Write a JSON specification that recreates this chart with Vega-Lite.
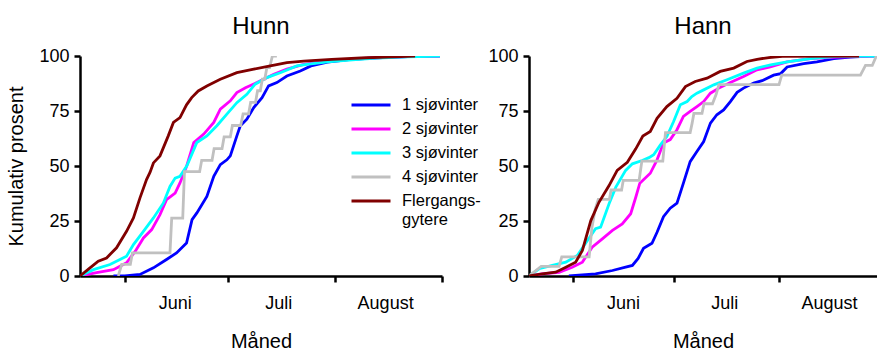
{
  "$schema": "https://vega.github.io/schema/vega-lite/v6.json",
  "padding": {"left": 6, "top": 15, "right": 0, "bottom": 0},
  "bounds": "flush",
  "spacing": 87,
  "datasets": {
    "hunn": [
      {"s": "1 sjøvinter", "d": -3.3, "p": 0},
      {"s": "1 sjøvinter", "d": 0, "p": 0.1},
      {"s": "1 sjøvinter", "d": 4.4, "p": 0.7},
      {"s": "1 sjøvinter", "d": 8.3, "p": 3.7},
      {"s": "1 sjøvinter", "d": 12.1, "p": 7.5},
      {"s": "1 sjøvinter", "d": 15, "p": 10.5},
      {"s": "1 sjøvinter", "d": 17.9, "p": 15},
      {"s": "1 sjøvinter", "d": 19.5, "p": 25.6},
      {"s": "1 sjøvinter", "d": 20.9, "p": 28.7},
      {"s": "1 sjøvinter", "d": 23.8, "p": 36.2},
      {"s": "1 sjøvinter", "d": 25.8, "p": 45.3},
      {"s": "1 sjøvinter", "d": 27.7, "p": 50.6},
      {"s": "1 sjøvinter", "d": 29.6, "p": 52.8},
      {"s": "1 sjøvinter", "d": 30.6, "p": 54.6},
      {"s": "1 sjøvinter", "d": 32.5, "p": 63.7},
      {"s": "1 sjøvinter", "d": 33.5, "p": 68.3},
      {"s": "1 sjøvinter", "d": 35.4, "p": 71.3},
      {"s": "1 sjøvinter", "d": 37.4, "p": 76.6},
      {"s": "1 sjøvinter", "d": 39.8, "p": 81.1},
      {"s": "1 sjøvinter", "d": 41.7, "p": 86.4},
      {"s": "1 sjøvinter", "d": 44.1, "p": 87.9},
      {"s": "1 sjøvinter", "d": 47, "p": 90.9},
      {"s": "1 sjøvinter", "d": 50.9, "p": 93.2},
      {"s": "1 sjøvinter", "d": 54, "p": 95.5},
      {"s": "1 sjøvinter", "d": 58.8, "p": 97.2},
      {"s": "1 sjøvinter", "d": 65, "p": 98.4},
      {"s": "1 sjøvinter", "d": 73, "p": 99.2},
      {"s": "1 sjøvinter", "d": 82, "p": 99.7},
      {"s": "1 sjøvinter", "d": 91.4, "p": 100},

      {"s": "2 sjøvinter", "d": -13, "p": 0},
      {"s": "2 sjøvinter", "d": -8.2, "p": 1.5},
      {"s": "2 sjøvinter", "d": -3.3, "p": 2.9},
      {"s": "2 sjøvinter", "d": 0.5, "p": 6},
      {"s": "2 sjøvinter", "d": 3, "p": 11.2},
      {"s": "2 sjøvinter", "d": 5.4, "p": 17.3},
      {"s": "2 sjøvinter", "d": 7.8, "p": 21.1},
      {"s": "2 sjøvinter", "d": 10.2, "p": 27.9},
      {"s": "2 sjøvinter", "d": 12.1, "p": 34.7},
      {"s": "2 sjøvinter", "d": 14.6, "p": 37.7},
      {"s": "2 sjøvinter", "d": 16, "p": 42.3},
      {"s": "2 sjøvinter", "d": 17.9, "p": 49.8},
      {"s": "2 sjøvinter", "d": 20, "p": 60.7},
      {"s": "2 sjøvinter", "d": 22.9, "p": 64.5},
      {"s": "2 sjøvinter", "d": 25.8, "p": 69.8},
      {"s": "2 sjøvinter", "d": 27.7, "p": 75.8},
      {"s": "2 sjøvinter", "d": 30.6, "p": 79.6},
      {"s": "2 sjøvinter", "d": 32.5, "p": 83.4},
      {"s": "2 sjøvinter", "d": 35, "p": 85.6},
      {"s": "2 sjøvinter", "d": 38.3, "p": 87.9},
      {"s": "2 sjøvinter", "d": 43.2, "p": 91.7},
      {"s": "2 sjøvinter", "d": 47, "p": 94},
      {"s": "2 sjøvinter", "d": 51.9, "p": 96.2},
      {"s": "2 sjøvinter", "d": 58.8, "p": 97.7},
      {"s": "2 sjøvinter", "d": 66, "p": 98.6},
      {"s": "2 sjøvinter", "d": 73, "p": 99.2},
      {"s": "2 sjøvinter", "d": 82, "p": 99.7},
      {"s": "2 sjøvinter", "d": 91.4, "p": 100},

      {"s": "3 sjøvinter", "d": -13, "p": 0},
      {"s": "3 sjøvinter", "d": -9.1, "p": 2.9},
      {"s": "3 sjøvinter", "d": -4.3, "p": 5.2},
      {"s": "3 sjøvinter", "d": -1.4, "p": 7.5},
      {"s": "3 sjøvinter", "d": 0.5, "p": 9},
      {"s": "3 sjøvinter", "d": 2.5, "p": 14.3},
      {"s": "3 sjøvinter", "d": 5.4, "p": 20.3},
      {"s": "3 sjøvinter", "d": 8.3, "p": 26.4},
      {"s": "3 sjøvinter", "d": 11.2, "p": 33.2},
      {"s": "3 sjøvinter", "d": 13.1, "p": 40.7},
      {"s": "3 sjøvinter", "d": 14.6, "p": 44.5},
      {"s": "3 sjøvinter", "d": 16, "p": 45.3},
      {"s": "3 sjøvinter", "d": 18, "p": 50.1},
      {"s": "3 sjøvinter", "d": 20.9, "p": 60.7},
      {"s": "3 sjøvinter", "d": 23.8, "p": 63.7},
      {"s": "3 sjøvinter", "d": 26.7, "p": 68.3},
      {"s": "3 sjøvinter", "d": 29.6, "p": 73.6},
      {"s": "3 sjøvinter", "d": 32.5, "p": 78.8},
      {"s": "3 sjøvinter", "d": 35.4, "p": 82.6},
      {"s": "3 sjøvinter", "d": 37.8, "p": 87.2},
      {"s": "3 sjøvinter", "d": 41.2, "p": 90.2},
      {"s": "3 sjøvinter", "d": 45.1, "p": 92.4},
      {"s": "3 sjøvinter", "d": 49.9, "p": 95.5},
      {"s": "3 sjøvinter", "d": 52.8, "p": 96.2},
      {"s": "3 sjøvinter", "d": 58.8, "p": 97.3},
      {"s": "3 sjøvinter", "d": 66, "p": 98.3},
      {"s": "3 sjøvinter", "d": 73, "p": 99},
      {"s": "3 sjøvinter", "d": 82, "p": 99.6},
      {"s": "3 sjøvinter", "d": 91.4, "p": 100},

      {"s": "4 sjøvinter", "d": -1.9, "p": 0},
      {"s": "4 sjøvinter", "d": -0.9, "p": 5.3},
      {"s": "4 sjøvinter", "d": 1.6, "p": 5.3},
      {"s": "4 sjøvinter", "d": 2.2, "p": 10.5},
      {"s": "4 sjøvinter", "d": 13.1, "p": 10.5},
      {"s": "4 sjøvinter", "d": 13.6, "p": 26.3},
      {"s": "4 sjøvinter", "d": 16.8, "p": 26.3},
      {"s": "4 sjøvinter", "d": 17.3, "p": 47.4},
      {"s": "4 sjøvinter", "d": 21.7, "p": 47.4},
      {"s": "4 sjøvinter", "d": 22.3, "p": 52.6},
      {"s": "4 sjøvinter", "d": 25.3, "p": 52.6},
      {"s": "4 sjøvinter", "d": 25.9, "p": 57.9},
      {"s": "4 sjøvinter", "d": 28.2, "p": 57.9},
      {"s": "4 sjøvinter", "d": 28.8, "p": 63.2},
      {"s": "4 sjøvinter", "d": 30.6, "p": 63.2},
      {"s": "4 sjøvinter", "d": 31.2, "p": 68.4},
      {"s": "4 sjøvinter", "d": 33.6, "p": 68.4},
      {"s": "4 sjøvinter", "d": 34.3, "p": 73.7},
      {"s": "4 sjøvinter", "d": 35.9, "p": 73.7},
      {"s": "4 sjøvinter", "d": 36.5, "p": 78.9},
      {"s": "4 sjøvinter", "d": 37.9, "p": 78.9},
      {"s": "4 sjøvinter", "d": 38.5, "p": 84.2},
      {"s": "4 sjøvinter", "d": 39.3, "p": 84.2},
      {"s": "4 sjøvinter", "d": 39.9, "p": 89.5},
      {"s": "4 sjøvinter", "d": 40.6, "p": 89.5},
      {"s": "4 sjøvinter", "d": 41.2, "p": 94.7},
      {"s": "4 sjøvinter", "d": 42, "p": 94.7},
      {"s": "4 sjøvinter", "d": 42.8, "p": 100},
      {"s": "4 sjøvinter", "d": 44.1, "p": 100},

      {"s": "Flergangs-gytere", "d": -13, "p": 0},
      {"s": "Flergangs-gytere", "d": -10.1, "p": 3.7},
      {"s": "Flergangs-gytere", "d": -7.7, "p": 6.7},
      {"s": "Flergangs-gytere", "d": -5.3, "p": 8.2},
      {"s": "Flergangs-gytere", "d": -2.4, "p": 12.8},
      {"s": "Flergangs-gytere", "d": 0.5, "p": 20.3},
      {"s": "Flergangs-gytere", "d": 2.5, "p": 26.4},
      {"s": "Flergangs-gytere", "d": 4.4, "p": 35.5},
      {"s": "Flergangs-gytere", "d": 6.3, "p": 43.8},
      {"s": "Flergangs-gytere", "d": 7.3, "p": 47.1},
      {"s": "Flergangs-gytere", "d": 8.3, "p": 51.4},
      {"s": "Flergangs-gytere", "d": 10.2, "p": 54.6},
      {"s": "Flergangs-gytere", "d": 12.6, "p": 63.7},
      {"s": "Flergangs-gytere", "d": 14.1, "p": 69.8},
      {"s": "Flergangs-gytere", "d": 16, "p": 72},
      {"s": "Flergangs-gytere", "d": 17.9, "p": 77.8},
      {"s": "Flergangs-gytere", "d": 19.4, "p": 81.1},
      {"s": "Flergangs-gytere", "d": 21.3, "p": 84.1},
      {"s": "Flergangs-gytere", "d": 23.8, "p": 86.4},
      {"s": "Flergangs-gytere", "d": 27.7, "p": 89.4},
      {"s": "Flergangs-gytere", "d": 32.5, "p": 92.4},
      {"s": "Flergangs-gytere", "d": 37.4, "p": 94},
      {"s": "Flergangs-gytere", "d": 42.2, "p": 95.5},
      {"s": "Flergangs-gytere", "d": 47, "p": 97},
      {"s": "Flergangs-gytere", "d": 51.9, "p": 97.7},
      {"s": "Flergangs-gytere", "d": 60, "p": 98.5},
      {"s": "Flergangs-gytere", "d": 70, "p": 99.2},
      {"s": "Flergangs-gytere", "d": 84.2, "p": 100}
    ],
    "hann": [
      {"s": "1 sjøvinter", "d": -1.2, "p": 0},
      {"s": "1 sjøvinter", "d": 6.7, "p": 1},
      {"s": "1 sjøvinter", "d": 11.7, "p": 2.5},
      {"s": "1 sjøvinter", "d": 15.6, "p": 4},
      {"s": "1 sjøvinter", "d": 17.6, "p": 4.8},
      {"s": "1 sjøvinter", "d": 19.3, "p": 8},
      {"s": "1 sjøvinter", "d": 20.9, "p": 12.6},
      {"s": "1 sjøvinter", "d": 23.4, "p": 14.9},
      {"s": "1 sjøvinter", "d": 24.9, "p": 19.9},
      {"s": "1 sjøvinter", "d": 26.8, "p": 27},
      {"s": "1 sjøvinter", "d": 28.8, "p": 30.8},
      {"s": "1 sjøvinter", "d": 30.8, "p": 33.1},
      {"s": "1 sjøvinter", "d": 32.7, "p": 42.2},
      {"s": "1 sjøvinter", "d": 34.7, "p": 52},
      {"s": "1 sjøvinter", "d": 36.7, "p": 56.6},
      {"s": "1 sjøvinter", "d": 38.7, "p": 61.1},
      {"s": "1 sjøvinter", "d": 40.7, "p": 69.5},
      {"s": "1 sjøvinter", "d": 42.6, "p": 73.3},
      {"s": "1 sjøvinter", "d": 44.6, "p": 75.5},
      {"s": "1 sjøvinter", "d": 46.6, "p": 79.3},
      {"s": "1 sjøvinter", "d": 48.6, "p": 83.5},
      {"s": "1 sjøvinter", "d": 50.5, "p": 85.4},
      {"s": "1 sjøvinter", "d": 53.5, "p": 87.7},
      {"s": "1 sjøvinter", "d": 56, "p": 88.8},
      {"s": "1 sjøvinter", "d": 59.4, "p": 91.3},
      {"s": "1 sjøvinter", "d": 61.5, "p": 92},
      {"s": "1 sjøvinter", "d": 63.4, "p": 95},
      {"s": "1 sjøvinter", "d": 68.3, "p": 96.5},
      {"s": "1 sjøvinter", "d": 72.2, "p": 97.3},
      {"s": "1 sjøvinter", "d": 77.2, "p": 98.8},
      {"s": "1 sjøvinter", "d": 82.1, "p": 99.5},
      {"s": "1 sjøvinter", "d": 88, "p": 100},
      {"s": "1 sjøvinter", "d": 90, "p": 100},

      {"s": "2 sjøvinter", "d": -13, "p": 0},
      {"s": "2 sjøvinter", "d": -9.1, "p": 1},
      {"s": "2 sjøvinter", "d": -4.1, "p": 1.7},
      {"s": "2 sjøvinter", "d": -0.2, "p": 4},
      {"s": "2 sjøvinter", "d": 2.8, "p": 6.3},
      {"s": "2 sjøvinter", "d": 5.7, "p": 13.1},
      {"s": "2 sjøvinter", "d": 8.7, "p": 16.9},
      {"s": "2 sjøvinter", "d": 11.7, "p": 20.7},
      {"s": "2 sjøvinter", "d": 14.6, "p": 23.7},
      {"s": "2 sjøvinter", "d": 17.1, "p": 28.3},
      {"s": "2 sjøvinter", "d": 18.6, "p": 35.8},
      {"s": "2 sjøvinter", "d": 19.8, "p": 42.2},
      {"s": "2 sjøvinter", "d": 22.9, "p": 46.7},
      {"s": "2 sjøvinter", "d": 24.9, "p": 52.8},
      {"s": "2 sjøvinter", "d": 26.8, "p": 60.4},
      {"s": "2 sjøvinter", "d": 28.8, "p": 62},
      {"s": "2 sjøvinter", "d": 30.8, "p": 66.5},
      {"s": "2 sjøvinter", "d": 32.7, "p": 72.5},
      {"s": "2 sjøvinter", "d": 34.7, "p": 74.8},
      {"s": "2 sjøvinter", "d": 36.7, "p": 77},
      {"s": "2 sjøvinter", "d": 38.7, "p": 79.3},
      {"s": "2 sjøvinter", "d": 40.7, "p": 83.1},
      {"s": "2 sjøvinter", "d": 43.2, "p": 85.4},
      {"s": "2 sjøvinter", "d": 46.6, "p": 88},
      {"s": "2 sjøvinter", "d": 50.5, "p": 90.7},
      {"s": "2 sjøvinter", "d": 54.5, "p": 93.7},
      {"s": "2 sjøvinter", "d": 58.4, "p": 95},
      {"s": "2 sjøvinter", "d": 63.4, "p": 97.3},
      {"s": "2 sjøvinter", "d": 70.3, "p": 98.8},
      {"s": "2 sjøvinter", "d": 78, "p": 99.5},
      {"s": "2 sjøvinter", "d": 88.8, "p": 100},

      {"s": "3 sjøvinter", "d": -13, "p": 0},
      {"s": "3 sjøvinter", "d": -10, "p": 3.3},
      {"s": "3 sjøvinter", "d": -6.1, "p": 4.8},
      {"s": "3 sjøvinter", "d": -2.1, "p": 6.3},
      {"s": "3 sjøvinter", "d": 1.3, "p": 9.3},
      {"s": "3 sjøvinter", "d": 4.3, "p": 16.1},
      {"s": "3 sjøvinter", "d": 6.7, "p": 21.5},
      {"s": "3 sjøvinter", "d": 8.2, "p": 22.2},
      {"s": "3 sjøvinter", "d": 10.7, "p": 32.8},
      {"s": "3 sjøvinter", "d": 12.7, "p": 40.4},
      {"s": "3 sjøvinter", "d": 15.6, "p": 48},
      {"s": "3 sjøvinter", "d": 17.6, "p": 51},
      {"s": "3 sjøvinter", "d": 20.5, "p": 52.5},
      {"s": "3 sjøvinter", "d": 22.5, "p": 53.8},
      {"s": "3 sjøvinter", "d": 23.9, "p": 55.1},
      {"s": "3 sjøvinter", "d": 25.9, "p": 59.6},
      {"s": "3 sjøvinter", "d": 27.8, "p": 63.4},
      {"s": "3 sjøvinter", "d": 29.8, "p": 70.2},
      {"s": "3 sjøvinter", "d": 31.8, "p": 77.8},
      {"s": "3 sjøvinter", "d": 33.8, "p": 79.3},
      {"s": "3 sjøvinter", "d": 35.2, "p": 81.6},
      {"s": "3 sjøvinter", "d": 36.7, "p": 83.1},
      {"s": "3 sjøvinter", "d": 38.7, "p": 84.6},
      {"s": "3 sjøvinter", "d": 41.7, "p": 86.9},
      {"s": "3 sjøvinter", "d": 45.6, "p": 89.2},
      {"s": "3 sjøvinter", "d": 50.5, "p": 92.2},
      {"s": "3 sjøvinter", "d": 54.5, "p": 94.5},
      {"s": "3 sjøvinter", "d": 58.5, "p": 96},
      {"s": "3 sjøvinter", "d": 63.4, "p": 97.3},
      {"s": "3 sjøvinter", "d": 70.3, "p": 98.8},
      {"s": "3 sjøvinter", "d": 78.2, "p": 99.8},
      {"s": "3 sjøvinter", "d": 90, "p": 100},

      {"s": "4 sjøvinter", "d": -13, "p": 0},
      {"s": "4 sjøvinter", "d": -9.4, "p": 4.35},
      {"s": "4 sjøvinter", "d": -4.1, "p": 4.35},
      {"s": "4 sjøvinter", "d": -3.3, "p": 8.7},
      {"s": "4 sjøvinter", "d": 4.8, "p": 8.7},
      {"s": "4 sjøvinter", "d": 5.6, "p": 21.7},
      {"s": "4 sjøvinter", "d": 6.6, "p": 30.4},
      {"s": "4 sjøvinter", "d": 7.5, "p": 34.8},
      {"s": "4 sjøvinter", "d": 10.8, "p": 34.8},
      {"s": "4 sjøvinter", "d": 11.3, "p": 39.1},
      {"s": "4 sjøvinter", "d": 14.4, "p": 39.1},
      {"s": "4 sjøvinter", "d": 14.9, "p": 43.5},
      {"s": "4 sjøvinter", "d": 19.6, "p": 43.5},
      {"s": "4 sjøvinter", "d": 20.4, "p": 52.2},
      {"s": "4 sjøvinter", "d": 26.6, "p": 52.2},
      {"s": "4 sjøvinter", "d": 27.4, "p": 65.2},
      {"s": "4 sjøvinter", "d": 34.7, "p": 65.2},
      {"s": "4 sjøvinter", "d": 35.3, "p": 69.6},
      {"s": "4 sjøvinter", "d": 35.8, "p": 73.9},
      {"s": "4 sjøvinter", "d": 38.2, "p": 73.9},
      {"s": "4 sjøvinter", "d": 38.8, "p": 78.3},
      {"s": "4 sjøvinter", "d": 41.3, "p": 78.3},
      {"s": "4 sjøvinter", "d": 42.4, "p": 82.6},
      {"s": "4 sjøvinter", "d": 43.2, "p": 87},
      {"s": "4 sjøvinter", "d": 61, "p": 87},
      {"s": "4 sjøvinter", "d": 61.8, "p": 91.3},
      {"s": "4 sjøvinter", "d": 85.1, "p": 91.3},
      {"s": "4 sjøvinter", "d": 86.6, "p": 95.7},
      {"s": "4 sjøvinter", "d": 88.6, "p": 95.7},
      {"s": "4 sjøvinter", "d": 89.8, "p": 100},
      {"s": "4 sjøvinter", "d": 90, "p": 100},

      {"s": "Flergangs-gytere", "d": -13, "p": 0},
      {"s": "Flergangs-gytere", "d": -9.1, "p": 1},
      {"s": "Flergangs-gytere", "d": -5.1, "p": 1.7},
      {"s": "Flergangs-gytere", "d": -2.1, "p": 4},
      {"s": "Flergangs-gytere", "d": 0.8, "p": 6.3},
      {"s": "Flergangs-gytere", "d": 2.8, "p": 11.6},
      {"s": "Flergangs-gytere", "d": 5.3, "p": 25.2},
      {"s": "Flergangs-gytere", "d": 7.7, "p": 33.5},
      {"s": "Flergangs-gytere", "d": 10.7, "p": 41.1},
      {"s": "Flergangs-gytere", "d": 13.1, "p": 48},
      {"s": "Flergangs-gytere", "d": 16.1, "p": 51.7},
      {"s": "Flergangs-gytere", "d": 18.6, "p": 57.8},
      {"s": "Flergangs-gytere", "d": 20.7, "p": 63.6},
      {"s": "Flergangs-gytere", "d": 22.9, "p": 65.7},
      {"s": "Flergangs-gytere", "d": 24.9, "p": 71.7},
      {"s": "Flergangs-gytere", "d": 27.8, "p": 77},
      {"s": "Flergangs-gytere", "d": 30.8, "p": 80.8},
      {"s": "Flergangs-gytere", "d": 33.3, "p": 86.1},
      {"s": "Flergangs-gytere", "d": 36.2, "p": 88.4},
      {"s": "Flergangs-gytere", "d": 39.7, "p": 89.9},
      {"s": "Flergangs-gytere", "d": 43.6, "p": 93},
      {"s": "Flergangs-gytere", "d": 47.6, "p": 94.5},
      {"s": "Flergangs-gytere", "d": 51.5, "p": 97.5},
      {"s": "Flergangs-gytere", "d": 54.5, "p": 98.5},
      {"s": "Flergangs-gytere", "d": 58, "p": 99.3},
      {"s": "Flergangs-gytere", "d": 62, "p": 99.8},
      {"s": "Flergangs-gytere", "d": 84.7, "p": 100}
    ]
  },
  "resolve": {"legend": {"color": "independent"}},
  "hconcat": [
    {
      "width": 362,
      "height": 220,
      "title": {"text": "Hunn", "offset": 8},
      "data": {"name": "hunn"},
      "mark": {"type": "line", "strokeWidth": 2.8, "clip": true},
      "encoding": {
        "x": {
          "field": "d", "type": "quantitative",
          "scale": {"domain": [-13, 92], "nice": false, "zero": false},
          "axis": {
            "values": [0, 30, 61, 92],
            "labelExpr": "datum.value == 0 ? 'Juni' : datum.value == 30 ? 'Juli' : datum.value == 61 ? 'August' : ''",
            "labelOffset": 50, "labelFlush": false, "labelOverlap": false,
            "title": "Måned", "titlePadding": 19
          }
        },
        "y": {
          "field": "p", "type": "quantitative",
          "scale": {"domain": [0, 100], "nice": false},
          "axis": {"values": [0, 25, 50, 75, 100], "title": "Kumulativ prosent", "titlePadding": 12}
        },
        "color": {
          "field": "s", "type": "nominal",
          "scale": {
            "domain": ["1 sjøvinter", "2 sjøvinter", "3 sjøvinter", "4 sjøvinter", "Flergangs-gytere"],
            "range": ["#0000FF", "#FF00FF", "#00FFFF", "#C0C0C0", "#800000"]
          },
          "legend": {
            "orient": "none", "legendX": 270, "legendY": 37,
            "title": null, "symbolType": "stroke", "symbolSize": 1521, "symbolStrokeWidth": 3,
            "clipHeight": 24, "labelOffset": 10, "padding": 0, "rowPadding": 0,
            "labelFont": "Liberation Sans", "labelFontSize": 16.5, "labelColor": "black",
            "labelExpr": "datum.label == 'Flergangs-gytere' ? ['Flergangs-', 'gytere'] : datum.label"
          }
        }
      }
    },
    {
      "width": 348,
      "height": 220,
      "title": {"text": "Hann", "offset": 8},
      "data": {"name": "hann"},
      "mark": {"type": "line", "strokeWidth": 2.8, "clip": true},
      "encoding": {
        "x": {
          "field": "d", "type": "quantitative",
          "scale": {"domain": [-13, 90], "nice": false, "zero": false},
          "axis": {
            "values": [0, 30, 61],
            "labelExpr": "datum.value == 0 ? 'Juni' : datum.value == 30 ? 'Juli' : datum.value == 61 ? 'August' : ''",
            "labelOffset": 50, "labelFlush": false, "labelOverlap": false,
            "title": "Måned", "titlePadding": 19
          }
        },
        "y": {
          "field": "p", "type": "quantitative",
          "scale": {"domain": [0, 100], "nice": false},
          "axis": {"values": [0, 25, 50, 75, 100], "title": null}
        },
        "color": {
          "field": "s", "type": "nominal",
          "scale": {
            "domain": ["1 sjøvinter", "2 sjøvinter", "3 sjøvinter", "4 sjøvinter", "Flergangs-gytere"],
            "range": ["#0000FF", "#FF00FF", "#00FFFF", "#C0C0C0", "#800000"]
          },
          "legend": null
        }
      }
    }
  ],
  "config": {
    "view": {"stroke": null},
    "font": "Liberation Sans",
    "axis": {
      "grid": false,
      "domainColor": "black", "domainWidth": 2.5,
      "tickColor": "black", "tickWidth": 2.5, "tickSize": 6,
      "labelFont": "Liberation Sans", "labelFontSize": 18, "labelColor": "black", "labelPadding": 5,
      "titleFont": "Liberation Sans", "titleFontSize": 20, "titleFontWeight": "normal", "titleColor": "black"
    },
    "axisX": {"labelPadding": 12},
    "title": {"font": "Liberation Sans", "fontSize": 24, "fontWeight": "normal", "color": "black"}
  }
}
